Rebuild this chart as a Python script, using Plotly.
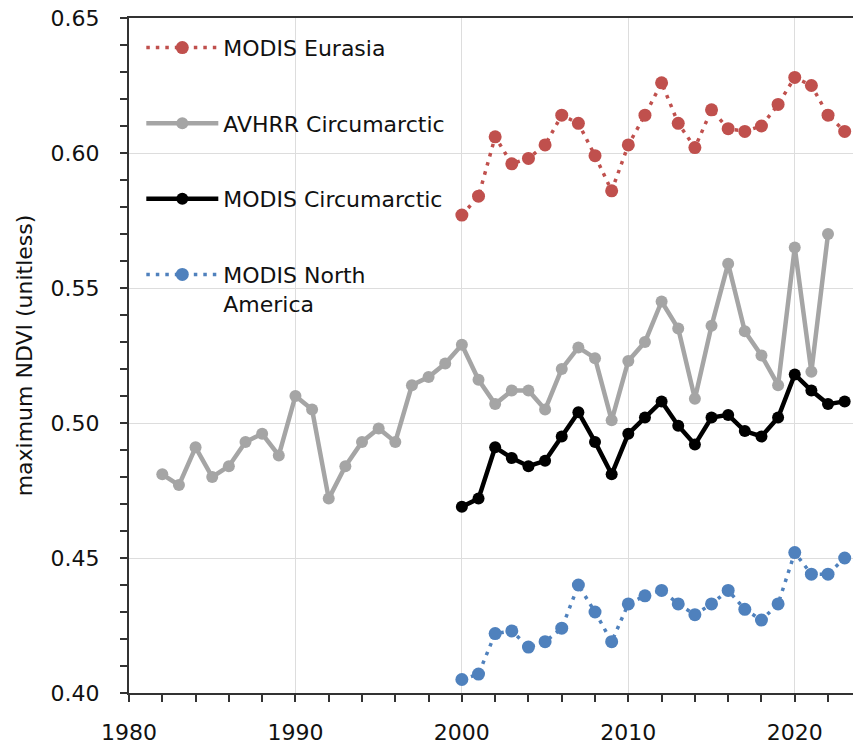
import plotly.graph_objects as go

years_avhrr = list(range(1982, 2023))
avhrr_circ = [0.481, 0.477, 0.491, 0.480, 0.484, 0.493, 0.496, 0.488, 0.510, 0.505,
              0.472, 0.484, 0.493, 0.498, 0.493, 0.514, 0.517, 0.522, 0.529, 0.516,
              0.507, 0.512, 0.512, 0.505, 0.520, 0.528, 0.524, 0.501, 0.523, 0.530,
              0.545, 0.535, 0.509, 0.536, 0.559, 0.534, 0.525, 0.514, 0.565, 0.519,
              0.570]

years_modis = list(range(2000, 2024))
modis_eurasia = [0.577, 0.584, 0.606, 0.596, 0.598, 0.603, 0.614, 0.611, 0.599, 0.586,
                 0.603, 0.614, 0.626, 0.611, 0.602, 0.616, 0.609, 0.608, 0.610, 0.618,
                 0.628, 0.625, 0.614, 0.608]
modis_circ = [0.469, 0.472, 0.491, 0.487, 0.484, 0.486, 0.495, 0.504, 0.493, 0.481,
              0.496, 0.502, 0.508, 0.499, 0.492, 0.502, 0.503, 0.497, 0.495, 0.502,
              0.518, 0.512, 0.507, 0.508]
modis_na = [0.405, 0.407, 0.422, 0.423, 0.417, 0.419, 0.424, 0.440, 0.430, 0.419,
            0.433, 0.436, 0.438, 0.433, 0.429, 0.433, 0.438, 0.431, 0.427, 0.433,
            0.452, 0.444, 0.444, 0.450]

series_names = ["MODIS Eurasia", "AVHRR Circumarctic", "MODIS Circumarctic",
                "MODIS North<br>America"]

FONT = "DejaVu Sans"
TXT = "#111111"

fig = go.Figure()

fig.add_trace(go.Scatter(
    x=years_modis, y=modis_eurasia, name=series_names[0], mode="lines+markers",
    line=dict(color="#C0504D", width=3.5, dash="3.5px,6px"),
    marker=dict(color="#C0504D", size=13), legendgroup="a"))
fig.add_trace(go.Scatter(
    x=years_avhrr, y=avhrr_circ, name=series_names[1], mode="lines+markers",
    line=dict(color="#A5A5A5", width=4.5),
    marker=dict(color="#A5A5A5", size=12), legendgroup="b"))
fig.add_trace(go.Scatter(
    x=years_modis, y=modis_circ, name=series_names[2], mode="lines+markers",
    line=dict(color="#000000", width=4.5),
    marker=dict(color="#000000", size=12), legendgroup="c"))
fig.add_trace(go.Scatter(
    x=years_modis, y=modis_na, name=series_names[3], mode="lines+markers",
    line=dict(color="#4F81BD", width=3.5, dash="3.5px,6px"),
    marker=dict(color="#4F81BD", size=13), legendgroup="d"))

fig.update_layout(
    width=854, height=749,
    margin=dict(l=129, r=1, t=18, b=56),
    paper_bgcolor="white", plot_bgcolor="white",
    font=dict(family=FONT, size=22, color=TXT),
    showlegend=True,
    legend=dict(x=0.017, y=0.987, xanchor="left", yanchor="top",
                bgcolor="rgba(0,0,0,0)", font=dict(size=22, family=FONT, color=TXT),
                tracegroupgap=44, valign="top", itemwidth=72),
)

fig.update_xaxes(
    range=[1980, 2023.5], tick0=1980, dtick=10, automargin=False,
    showgrid=True, gridcolor="#DDDDDD", gridwidth=1,
    showline=True, linecolor="#333333", linewidth=2, mirror=True,
    ticks="outside", ticklen=7, tickwidth=1.5, tickcolor="#333333",
    minor=dict(dtick=2, tick0=1980, ticks="outside", ticklen=7, tickwidth=1.5,
               tickcolor="#333333", showgrid=False),
    tickfont=dict(size=22, family=FONT, color=TXT),
    ticklabelstandoff=12, zeroline=False, ticklabeloverflow="allow",
)
fig.update_yaxes(
    range=[0.40, 0.65], tick0=0.40, dtick=0.05, tickformat=".2f", automargin=False,
    showgrid=True, gridcolor="#DDDDDD", gridwidth=1,
    showline=True, linecolor="#333333", linewidth=2,
    ticks="outside", ticklen=7, tickwidth=1.5, tickcolor="#333333",
    minor=dict(dtick=0.01, ticks="outside", ticklen=7, tickwidth=1.5,
               tickcolor="#333333", showgrid=False),
    tickfont=dict(size=22, family=FONT, color=TXT),
    ticklabelstandoff=16, zeroline=False, ticklabeloverflow="allow",
    title=dict(text="maximum NDVI (unitless)", font=dict(size=22, family=FONT, color=TXT),
               standoff=12),
)

# remove the default 8px body margin so the figure fills the 854x749 window exactly
fig.write_html("out.html", config={"displayModeBar": False},
               post_script="document.body.style.margin='0';")
